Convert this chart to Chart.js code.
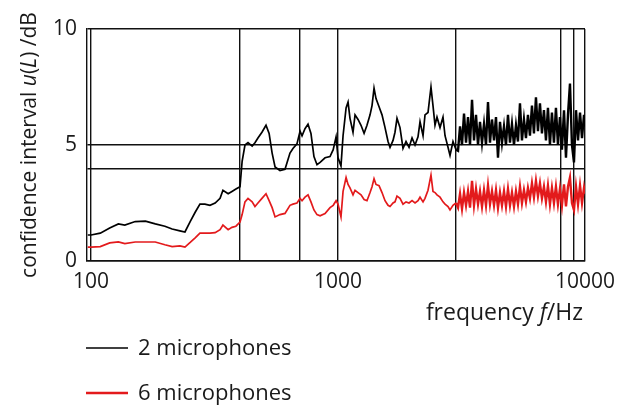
<!DOCTYPE html>
<html>
<head>
<meta charset="utf-8">
<script src="https://cdn.jsdelivr.net/npm/chart.js@4.4.1/dist/chart.umd.min.js"></script>
<style>
  body{margin:0;background:#fff}
</style>
</head>
<body>
<canvas id="chart" width="630" height="408"></canvas>
<script>
// frecuencias (Hz) y valores
const freqHz=[97,100,109,119,129,137,151,166,182,199,213,229,240,252,264,276,289,303,318,333,342,359,372,386,401,
409,420,432,449,461,474,492,511,526,541,556,582,610,639,657,682,702,715,735,756,777,799,822,846,886,928,956,982,1000,1028,
1048,1078,1098,1118,1150,1172,1205,1239,1275,1310,1348,1373,1399,1425,1466,1507,1550,1594,1624,1670,1701,1733,1782,1833,1885,1939,1994,2050,2108,2148,
2209,2250,2314,2379,2424,2470,2516,2588,2661,2712,2788,2841,2921,3004,
3061,3119,3177,3237,3298,3360,3423,3488,3553,3620,3688,3757,3828,3900,3973,4048,4124,4202,4281,4361,4443,4527,4612,4699,4787,4877,4969,5062,5158,5254,5353,5454,
5556,5661,5767,5875,5986,6099,6213,6330,6449,6571,6694,6820,6949,7079,7213,7348,7487,7627,7771,7917,8066,8222,8375,8532,8693,8856,9023,9196,9369,9546,9725,9908,10000]

const twoMics=[1.12,1.12,1.2,1.42,1.6,1.55,1.7,1.72,1.6,1.5,1.38,1.3,1.25,1.7,2.1,2.45,2.45,2.4,2.5,2.7,3.05,2.9,3.0,3.1,3.2,
4.3,5.0,5.1,4.95,5.1,5.3,5.55,5.85,5.5,4.65,4.05,3.9,3.95,4.65,4.85,5.05,5.6,5.4,5.7,5.9,5.5,4.5,4.15,4.25,4.45,4.5,4.8,5.35,4.45,4.1,
5.4,6.6,6.85,6.15,5.55,6.3,6.1,5.85,5.5,5.85,6.3,6.7,7.45,7.0,6.65,6.3,5.75,5.15,4.9,5.2,5.55,6.15,5.75,4.85,5.15,4.9,5.3,5.0,5.35,6.0,
5.4,6.3,6.4,7.5,6.7,5.85,6.2,5.75,6.2,5.4,4.9,4.55,5.15,4.8,
4.75,5.8,5.0,6.35,5.1,6.2,5.0,6.95,5.2,6.3,5.0,6.0,5.1,5.9,5.0,6.85,5.1,6.1,5.2,6.2,4.45,6.0,5.1,5.8,5.0,6.3,5.1,5.9,5.0,5.85,5.15,6.8,
5.2,6.1,5.3,6.3,5.4,6.7,5.5,7.05,5.6,6.8,5.5,6.5,5.2,6.6,5.0,6.4,5.1,6.6,5.0,6.2,4.8,6.5,4.45,6.3,7.65,5.0,4.25,6.5,5.2,6.4,5.3,6.3,5.8]

const sixMics=[0.6,0.6,0.62,0.78,0.82,0.75,0.82,0.82,0.82,0.7,0.62,0.65,0.6,0.8,1.0,1.2,1.2,1.2,1.22,1.35,1.55,1.35,1.45,1.5,1.68,
2.0,2.55,2.7,2.55,2.35,2.5,2.7,2.9,2.6,2.3,1.9,2.0,2.05,2.4,2.45,2.5,2.7,2.6,2.75,2.85,2.55,2.2,2.0,1.95,2.05,2.3,2.4,2.6,2.45,1.9,
3.0,3.6,3.3,3.15,2.85,3.05,2.95,2.85,2.65,2.6,2.95,3.2,3.55,3.3,3.25,2.95,2.6,2.4,2.35,2.5,2.55,2.8,2.7,2.45,2.55,2.5,2.6,2.5,2.6,2.75,
2.55,2.7,3.05,3.7,3.0,2.95,2.85,2.75,2.55,2.45,2.35,2.2,2.4,2.5,
2.3,2.9,2.25,2.95,2.4,3.0,2.3,3.45,2.4,3.1,2.45,3.0,2.35,3.05,2.4,3.25,2.45,3.0,2.4,3.05,2.3,2.95,2.4,3.0,2.35,3.1,2.4,2.95,2.35,3.0,2.45,3.2,
2.5,3.05,2.55,3.15,2.7,3.35,2.75,3.45,2.8,3.35,2.7,3.2,2.55,3.25,2.45,3.15,2.5,3.2,2.45,3.1,2.4,3.3,2.35,3.2,3.6,2.5,2.2,3.2,2.45,3.25,2.5,3.15,2.9]

// lineas de rejilla y etiquetas
const xGrid=[100,400,700,1000,3000,8000,9000,10000]
const xLabels=[100,1000,10000]
const yGrid=[0,4,5,10]
const yLabels=[0,5,10]

const FONT="'Open Sans', sans-serif"

// dibuja un texto con partes en cursiva
const drawParts=(ctx,parts,x,y,size,align)=>{
  const widths=parts.map(([t,it])=>{ctx.font=(it?'italic ':'')+size+'px '+FONT;return ctx.measureText(t).width})
  const total=widths.reduce((a,b)=>a+b,0)
  let cx=align==='right'?x-total:align==='center'?x-total/2:x
  parts.forEach(([t,it],i)=>{
    ctx.font=(it?'italic ':'')+size+'px '+FONT
    ctx.fillText(t,cx,y)
    cx+=widths[i]
  })
}

const textPlugin={
  id:'textPlugin',
  afterDraw(chart){
    const ctx=chart.ctx
    ctx.save()
    ctx.fillStyle='#1a1a1a'
    ctx.textAlign='left'
    ctx.textBaseline='middle'
    // titulo eje y
    ctx.save()
    ctx.translate(30,(chart.chartArea.top+chart.chartArea.bottom)/2)
    ctx.rotate(-Math.PI/2)
    drawParts(ctx,[['confidence interval ',false],['u',true],['(',false],['L',true],[') /dB',false]],0,0,21,'center')
    ctx.restore()
    // titulo eje x
    drawParts(ctx,[['frequency ',false],['f',true],['/Hz',false]],583,313,23,'right')
    // leyenda
    chart.data.datasets.forEach((ds,i)=>{
      const y=348+i*45
      ctx.strokeStyle=ds.borderColor
      ctx.lineWidth=ds.legendWidth
      ctx.beginPath();ctx.moveTo(86,y);ctx.lineTo(128,y);ctx.stroke()
      ctx.fillStyle='#1a1a1a'
      drawParts(ctx,[[ds.label,false]],138,y+1,22,'left')
    })
    ctx.restore()
  }
}

// la zona ruidosa (>3 kHz) se ve mas gruesa
const thickNoise={borderWidth:c=>c.p0.parsed.x>=3000?2.4:1.7}

const data={
  datasets:[{
    label:'2 microphones',
    data:freqHz.map((f,i)=>({x:f,y:twoMics[i]})),
    borderColor:'#000000',
    borderWidth:1.7,
    legendWidth:1.3,
    pointRadius:0,
    tension:0,
    segment:thickNoise
  },{
    label:'6 microphones',
    data:freqHz.map((f,i)=>({x:f,y:sixMics[i]})),
    borderColor:'#e31a1c',
    borderWidth:1.7,
    legendWidth:2.5,
    pointRadius:0,
    tension:0,
    segment:thickNoise
  }]
}

const options={
  responsive:false,
  animation:false,
  layout:{padding:{left:0,top:29,right:45,bottom:0}},
  plugins:{legend:{display:false},tooltip:{enabled:false}},
  scales:{
    x:{
      type:'logarithmic',
      min:96.3,
      max:10000,
      afterBuildTicks:s=>{s.ticks=xGrid.map(v=>({value:v}))},
      afterFit:s=>{s.height=147},
      ticks:{
        autoSkip:false,maxRotation:0,padding:8,color:'#1a1a1a',
        font:{family:FONT,size:21},
        callback:v=>xLabels.includes(v)?String(v):''
      },
      grid:{color:'#111',lineWidth:1.4,drawTicks:false},
      border:{color:'#111',width:1.4}
    },
    y:{
      min:0,max:10,
      afterBuildTicks:s=>{s.ticks=yGrid.map(v=>({value:v}))},
      afterFit:s=>{s.width=87},
      ticks:{
        autoSkip:false,padding:10,color:'#1a1a1a',
        font:{family:FONT,size:21},
        callback:v=>yLabels.includes(v)?String(v):''
      },
      grid:{color:'#111',lineWidth:1.4,drawTicks:false},
      border:{color:'#111',width:1.4}
    }
  }
}

new Chart('chart',{type:'line',data,options,plugins:[textPlugin]})
</script>
</body>
</html>
